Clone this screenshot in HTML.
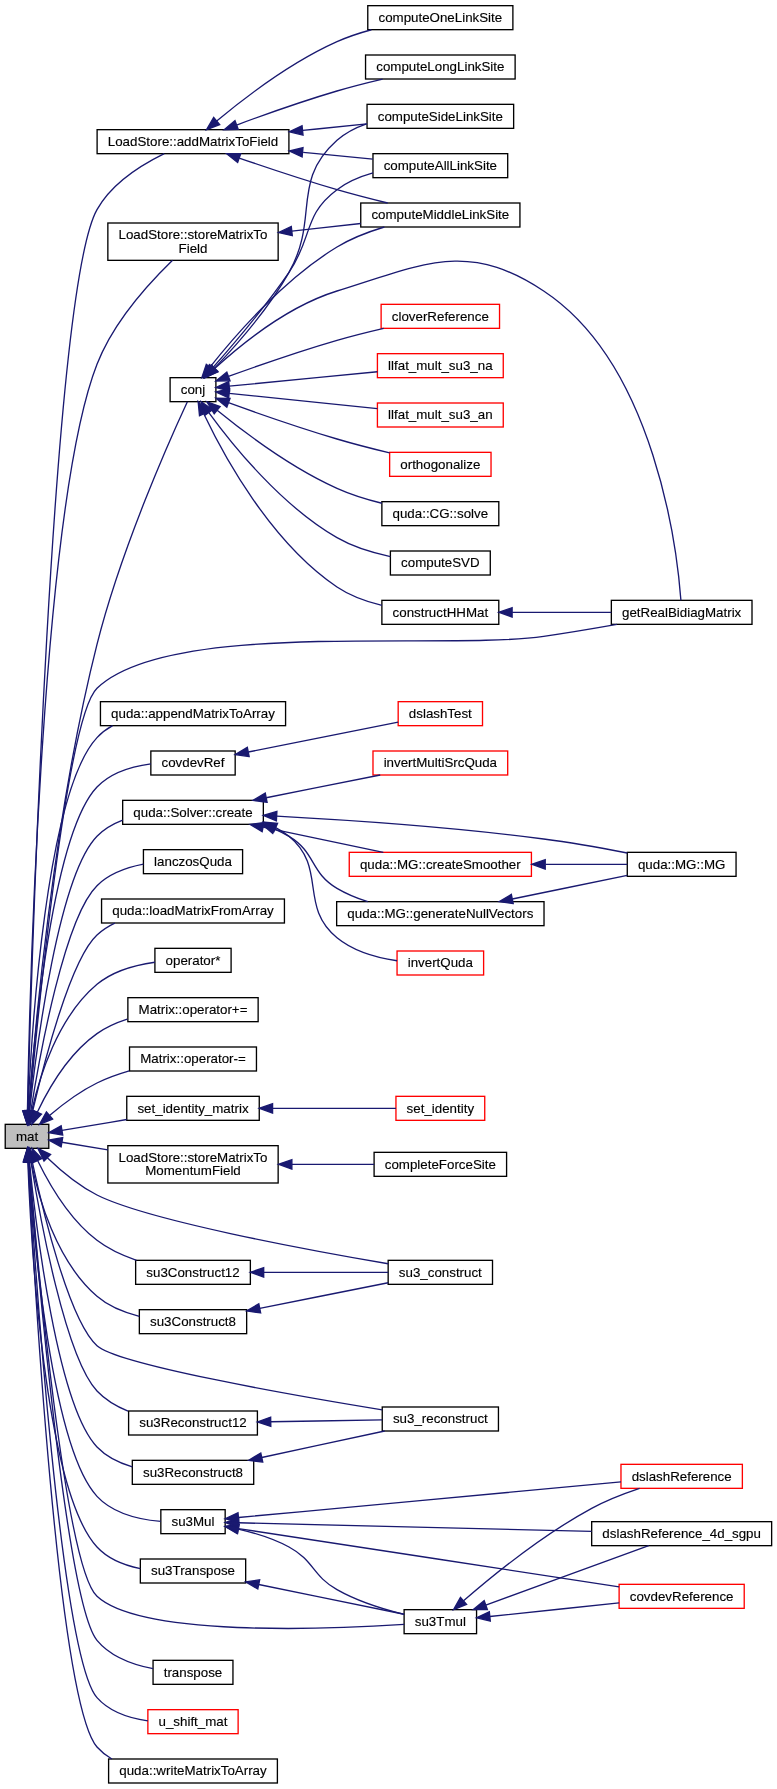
<!DOCTYPE html>
<html lang="en"><head><meta charset="utf-8"><title>mat caller graph</title>
<style>
html,body{margin:0;padding:0;background:#fff;}
body{width:777px;height:1789px;overflow:hidden;}
svg{display:block;will-change:transform;}
.n text{font-family:"Liberation Sans",sans-serif;font-size:10px;fill:#000;text-anchor:middle;stroke:#000;stroke-width:0.1;}
.n rect{stroke-width:1;}
.e path{fill:none;stroke:#191970;stroke-width:1;}
.e polygon{fill:#191970;stroke:#191970;stroke-width:1;}
</style></head><body>
<svg width="777" height="1789" viewBox="0 0 777 1789">
<rect x="0" y="0" width="777" height="1789" fill="#fff"/>
<g transform="translate(-0.33 -0.33) scale(1.33333)">
<g class="n">
<rect x="4.17" y="843.5" width="32.67" height="18" fill="#bfbfbf" stroke="#000"/>
<text x="20.5" y="855.8">mat</text>
<rect x="127.83" y="283.5" width="34.34" height="18" fill="#fff" stroke="#000"/>
<text x="145" y="295.8">conj</text>
<rect x="458.76" y="450.5" width="105.49" height="18" fill="#fff" stroke="#000"/>
<text x="511.5" y="462.8">getRealBidiagMatrix</text>
<rect x="75.58" y="526.5" width="138.85" height="18" fill="#fff" stroke="#000"/>
<text x="145" y="538.8">quda::appendMatrixToArray</text>
<rect x="113.38" y="563.5" width="63.25" height="18" fill="#fff" stroke="#000"/>
<text x="145" y="575.8">covdevRef</text>
<rect x="92.25" y="600.5" width="105.5" height="18" fill="#fff" stroke="#000"/>
<text x="145" y="612.8">quda::Solver::create</text>
<rect x="107.82" y="637.5" width="74.37" height="18" fill="#fff" stroke="#000"/>
<text x="145" y="649.8">lanczosQuda</text>
<rect x="76.42" y="674.5" width="137.15" height="18" fill="#fff" stroke="#000"/>
<text x="145" y="686.8">quda::loadMatrixFromArray</text>
<rect x="116.43" y="711.5" width="57.14" height="18" fill="#fff" stroke="#000"/>
<text x="145" y="723.8">operator*</text>
<rect x="96.15" y="748.5" width="97.7" height="18" fill="#fff" stroke="#000"/>
<text x="145" y="760.8">Matrix::operator+=</text>
<rect x="97.4" y="785.5" width="95.19" height="18" fill="#fff" stroke="#000"/>
<text x="145" y="797.8">Matrix::operator-=</text>
<rect x="95.32" y="822.5" width="99.37" height="18" fill="#fff" stroke="#000"/>
<text x="145" y="834.8">set_identity_matrix</text>
<rect x="81.14" y="859.5" width="127.72" height="28" fill="#fff" stroke="#000"/>
<text x="145" y="871.8">LoadStore::storeMatrixTo</text>
<text x="145" y="881.8">MomentumField</text>
<rect x="101.98" y="945.5" width="86.04" height="18" fill="#fff" stroke="#000"/>
<text x="145" y="957.8">su3Construct12</text>
<rect x="291.37" y="945.5" width="78.26" height="18" fill="#fff" stroke="#000"/>
<text x="330.5" y="957.8">su3_construct</text>
<rect x="104.76" y="982.5" width="80.48" height="18" fill="#fff" stroke="#000"/>
<text x="145" y="994.8">su3Construct8</text>
<rect x="96.7" y="1058.5" width="96.6" height="18" fill="#fff" stroke="#000"/>
<text x="145" y="1070.8">su3Reconstruct12</text>
<rect x="286.93" y="1055.5" width="87.15" height="18" fill="#fff" stroke="#000"/>
<text x="330.5" y="1067.8">su3_reconstruct</text>
<rect x="120.88" y="1132.5" width="48.24" height="18" fill="#fff" stroke="#000"/>
<text x="145" y="1144.8">su3Mul</text>
<rect x="303.33" y="1207.5" width="54.34" height="18" fill="#fff" stroke="#000"/>
<text x="330.5" y="1219.8">su3Tmul</text>
<rect x="105.5" y="1169.5" width="79" height="18" fill="#fff" stroke="#000"/>
<text x="145" y="1181.8">su3Transpose</text>
<rect x="73.08" y="97.5" width="143.85" height="18" fill="#fff" stroke="#000"/>
<text x="145" y="109.8">LoadStore::addMatrixToField</text>
<rect x="99.48" y="1095.5" width="91.04" height="18" fill="#fff" stroke="#000"/>
<text x="145" y="1107.8">su3Reconstruct8</text>
<rect x="115.04" y="1245.5" width="59.92" height="18" fill="#fff" stroke="#000"/>
<text x="145" y="1257.8">transpose</text>
<rect x="81.14" y="167.5" width="127.72" height="28" fill="#fff" stroke="#000"/>
<text x="145" y="179.8">LoadStore::storeMatrixTo</text>
<text x="145" y="189.8">Field</text>
<rect x="111.15" y="1282.5" width="67.69" height="18" fill="#fff" stroke="#f00"/>
<text x="145" y="1294.8">u_shift_mat</text>
<rect x="81.7" y="1319.5" width="126.59" height="18" fill="#fff" stroke="#000"/>
<text x="145" y="1331.8">quda::writeMatrixToArray</text>
<rect x="279.98" y="115.5" width="101.04" height="18" fill="#fff" stroke="#000"/>
<text x="330.5" y="127.8">computeAllLinkSite</text>
<rect x="286.66" y="450.5" width="87.68" height="18" fill="#fff" stroke="#000"/>
<text x="330.5" y="462.8">constructHHMat</text>
<rect x="270.81" y="152.5" width="119.39" height="18" fill="#fff" stroke="#000"/>
<text x="330.5" y="164.8">computeMiddleLinkSite</text>
<rect x="286.65" y="376.5" width="87.7" height="18" fill="#fff" stroke="#000"/>
<text x="330.5" y="388.8">quda::CG::solve</text>
<rect x="293.04" y="413.5" width="74.92" height="18" fill="#fff" stroke="#000"/>
<text x="330.5" y="425.8">computeSVD</text>
<rect x="275.53" y="78.5" width="109.95" height="18" fill="#fff" stroke="#000"/>
<text x="330.5" y="90.8">computeSideLinkSite</text>
<rect x="286.09" y="228.5" width="88.81" height="18" fill="#fff" stroke="#f00"/>
<text x="330.5" y="240.8">cloverReference</text>
<rect x="283.31" y="265.5" width="94.38" height="18" fill="#fff" stroke="#f00"/>
<text x="330.5" y="277.8">llfat_mult_su3_na</text>
<rect x="283.31" y="302.5" width="94.38" height="18" fill="#fff" stroke="#f00"/>
<text x="330.5" y="314.8">llfat_mult_su3_an</text>
<rect x="292.48" y="339.5" width="76.04" height="18" fill="#fff" stroke="#f00"/>
<text x="330.5" y="351.8">orthogonalize</text>
<rect x="298.88" y="526.5" width="63.25" height="18" fill="#fff" stroke="#f00"/>
<text x="330.5" y="538.8">dslashTest</text>
<rect x="298.04" y="713.5" width="64.92" height="18" fill="#fff" stroke="#f00"/>
<text x="330.5" y="725.8">invertQuda</text>
<rect x="279.99" y="563.5" width="101.03" height="18" fill="#fff" stroke="#f00"/>
<text x="330.5" y="575.8">invertMultiSrcQuda</text>
<rect x="262.19" y="639.5" width="136.62" height="18" fill="#fff" stroke="#f00"/>
<text x="330.5" y="651.8">quda::MG::createSmoother</text>
<rect x="470.71" y="639.5" width="81.58" height="18" fill="#fff" stroke="#000"/>
<text x="511.5" y="651.8">quda::MG::MG</text>
<rect x="252.74" y="676.5" width="155.52" height="18" fill="#fff" stroke="#000"/>
<text x="330.5" y="688.8">quda::MG::generateNullVectors</text>
<rect x="297.21" y="822.5" width="66.59" height="18" fill="#fff" stroke="#f00"/>
<text x="330.5" y="834.8">set_identity</text>
<rect x="280.82" y="864.5" width="99.37" height="18" fill="#fff" stroke="#000"/>
<text x="330.5" y="876.8">completeForceSite</text>
<rect x="464.59" y="1188.5" width="93.82" height="18" fill="#fff" stroke="#f00"/>
<text x="511.5" y="1200.8">covdevReference</text>
<rect x="444.01" y="1141.5" width="134.97" height="18" fill="#fff" stroke="#000"/>
<text x="511.5" y="1153.8">dslashReference_4d_sgpu</text>
<rect x="465.98" y="1098.5" width="91.04" height="18" fill="#fff" stroke="#f00"/>
<text x="511.5" y="1110.8">dslashReference</text>
<rect x="276.08" y="4.5" width="108.83" height="18" fill="#fff" stroke="#000"/>
<text x="330.5" y="16.8">computeOneLinkSite</text>
<rect x="274.41" y="41.5" width="112.18" height="18" fill="#fff" stroke="#000"/>
<text x="330.5" y="53.8">computeLongLinkSite</text>
</g>
<g class="e">
<path d="M21.78,833.52C25.77,778.6 39.8,615.03 73,483.5 91.25,411.2 128.26,328.46 140.77,301.5"/><polygon points="25.27,833.77 21.08,843.5 18.28,833.28 25.27,833.77"/>
<path d="M22.13,833.54C28.14,765.83 49.89,538.79 73,516.5 126.95,464.47 333.84,488.32 408,477.5 425.87,474.89 445.56,471.57 462.93,468.5"/><polygon points="25.62,833.84 21.26,843.5 18.65,833.23 25.62,833.84"/>
<path d="M21.22,833.51C23.85,774.32 34.87,594.69 73,553.5 76.37,549.86 80.36,546.91 84.7,544.53"/><polygon points="24.72,833.65 20.81,843.5 17.72,833.36 24.72,833.65"/>
<path d="M21.74,833.52C25.64,779.39 39.51,625.84 73,590.5 83.22,579.71 99.12,575.02 113.38,573.11"/><polygon points="25.23,833.76 21.05,843.5 18.24,833.28 25.23,833.76"/>
<path d="M22.42,833.55C27.72,784.86 44.13,657.08 73,627.5 78.33,622.04 85.06,618.15 92.25,615.4"/><polygon points="25.9,833.92 21.37,843.5 18.93,833.19 25.9,833.92"/>
<path d="M23.34,833.62C30.15,790.83 48.66,688.37 73,664.5 82.16,655.52 95.28,650.82 107.82,648.41"/><polygon points="26.8,834.15 21.81,843.5 19.88,833.08 26.8,834.15"/>
<path d="M24.69,833.75C33.14,797.51 53.14,719.79 73,701.5 76.93,697.88 81.47,694.96 86.34,692.61"/><polygon points="28.1,834.53 22.46,843.5 21.27,832.97 28.1,834.53"/>
<path d="M23.97,833.7C29.66,808.28 43.44,763.27 73,738.5 84.94,728.5 101.94,723.94 116.43,721.92"/><polygon points="27.4,834.41 21.96,843.5 20.54,833 27.4,834.41"/>
<path d="M28.22,834.39C36.66,816.74 51.88,790.43 73,775.5 79.75,770.73 87.65,767.23 95.68,764.65"/><polygon points="31.4,835.84 24.09,843.5 25.03,832.95 31.4,835.84"/>
<path d="M37.37,836.89C47.15,828.59 60.05,818.82 73,812.5 80.54,808.82 88.91,805.84 97.19,803.44"/><polygon points="39.69,839.52 29.87,843.5 35.06,834.26 39.69,839.52"/>
<path d="M46.7,848.08C60.8,845.7 78.68,842.69 95.32,839.88"/><polygon points="47.28,851.53 36.83,849.74 46.11,844.63 47.28,851.53"/>
<path d="M46.7,856.92C56.86,858.63 68.95,860.67 81.14,862.72"/><polygon points="46.12,860.37 36.83,855.26 47.28,853.47 46.12,860.37"/>
<path d="M28.44,870.57C37.04,888.19 52.36,914.59 73,930.5 81.58,937.11 92.21,941.96 102.64,945.5"/><polygon points="25.27,872.04 24.22,861.5 31.61,869.09 25.27,872.04"/>
<path d="M35.71,868.59C45.51,878.04 59,889.48 73,896.5 110.87,915.49 229.16,937.42 291.37,948.06"/><polygon points="33.23,871.06 28.66,861.5 38.19,866.12 33.23,871.06"/>
<path d="M23.54,871.34C28.82,897.85 42.22,945.88 73,972.5 81.78,980.09 93.4,984.69 104.76,987.47"/><polygon points="20.1,871.96 21.76,861.5 26.99,870.72 20.1,871.96"/>
<path d="M23.4,871.38C30.38,914.46 49.29,1018.25 73,1043.5 79.32,1050.23 87.6,1055.08 96.26,1058.56"/><polygon points="19.95,871.92 21.84,861.5 26.86,870.83 19.95,871.92"/>
<path d="M24.36,871.29C32.43,908.73 52.07,990.67 73,1009.5 88.76,1023.67 217.69,1046.3 286.93,1057.61"/><polygon points="20.94,872.01 22.3,861.5 27.79,870.56 20.94,872.01"/>
<path d="M21.64,871.48C25.32,926.7 38.76,1085.67 73,1122.5 84.99,1135.4 105,1139.92 120.88,1141.34"/><polygon points="18.14,871.7 21,861.5 25.13,871.26 18.14,871.7"/>
<path d="M22.02,871.47C27.73,940.43 48.79,1175.02 73,1197.5 105.67,1227.83 244.01,1222.41 303.33,1218.55"/><polygon points="18.53,871.75 21.21,861.5 25.51,871.18 18.53,871.75"/>
<path d="M21.11,871.49C23.45,931.86 33.74,1117.87 73,1160.5 81.28,1169.49 93.48,1174.27 105.5,1176.73"/><polygon points="17.61,871.62 20.76,861.5 24.61,871.37 17.61,871.62"/>
<path d="M20.98,833.5C23.79,728.13 39.07,218.03 73,157.5 84.03,137.83 106.52,123.8 123.45,115.5"/><polygon points="24.48,833.59 20.72,843.5 17.49,833.41 24.48,833.59"/>
<path d="M22.28,871.45C27.32,921.32 43.34,1054.49 73,1085.5 80.06,1092.88 89.64,1097.5 99.48,1100.36"/><polygon points="18.79,871.79 21.3,861.5 25.76,871.11 18.79,871.79"/>
<path d="M21.97,871.47C27.77,944.18 49.83,1202.44 73,1230.5 83.17,1242.81 100.13,1248.83 115.04,1251.77"/><polygon points="18.48,871.74 21.19,861.5 25.46,871.19 18.48,871.74"/>
<path d="M20.81,833.5C22.44,745.72 31.66,379.15 73,273.5 85.34,241.96 112.44,212.24 129.65,195.5"/><polygon points="24.31,833.56 20.63,843.5 17.31,833.44 24.31,833.56"/>
<path d="M21.62,871.48C26.4,949.51 46.02,1242.85 73,1273.5 82.39,1284.17 97.32,1288.95 111.15,1290.96"/><polygon points="18.13,871.69 21.02,861.5 25.11,871.27 18.13,871.69"/>
<path d="M21.42,871.49C25.56,953.77 43.62,1276.87 73,1310.5 76.18,1314.14 79.97,1317.1 84.14,1319.49"/><polygon points="17.92,871.66 20.92,861.5 24.91,871.31 17.92,871.66"/>
<path d="M159.87,276.03C175.1,258.78 199.04,230.61 217,204.5 235.06,178.25 227.4,161.48 253,142.5 260.89,136.65 270.4,132.67 279.98,129.96"/><polygon points="162.48,278.36 153.21,283.5 157.25,273.71 162.48,278.36"/>
<path d="M161.25,276.66C181.1,258.53 216.53,229.89 253,218.5 318.76,197.98 350.54,180.5 408,218.5 491.94,274.02 508.1,413.69 510.94,450.5"/><polygon points="163.65,279.21 153.96,283.5 158.86,274.11 163.65,279.21"/>
<path d="M153.05,310.58C168.04,342.09 203.27,406.9 253,440.5 262.86,447.15 274.97,451.48 286.66,454.3"/><polygon points="149.87,312.05 148.86,301.5 156.23,309.11 149.87,312.05"/>
<path d="M157.75,275.59C176.31,252.11 212.95,209.76 253,185.5 263.71,179.01 276.46,174.12 288.51,170.5"/><polygon points="160.51,277.74 151.62,283.5 154.98,273.45 160.51,277.74"/>
<path d="M163.1,307.87C183.69,324.63 218.89,351.1 253,366.5 263.44,371.21 275.35,374.88 286.65,377.67"/><polygon points="160.87,310.57 155.4,301.5 165.33,305.18 160.87,310.57"/>
<path d="M156.86,309.64C174.82,334.29 211.26,379.41 253,403.5 265.03,410.45 279.71,414.87 293.04,417.68"/><polygon points="154.01,311.68 151.06,301.5 159.71,307.61 154.01,311.68"/>
<path d="M161.14,276.33C177.17,259.54 201.52,231.93 217,204.5 240.01,163.73 218,136.6 253,105.5 259.32,99.88 267.07,95.93 275.18,93.16"/><polygon points="163.65,278.77 154.17,283.5 158.63,273.89 163.65,278.77"/>
<path d="M171.56,282.61C193.36,274.69 225.07,263.59 253,255.5 264.2,252.25 276.55,249.17 288.05,246.5"/><polygon points="172.77,285.9 162.17,286.05 170.36,279.33 172.77,285.9"/>
<path d="M172.13,289.86C201.26,287.03 248.11,282.49 283.31,279.08"/><polygon points="172.46,293.34 162.17,290.83 171.79,286.38 172.46,293.34"/>
<path d="M172.12,295.28C201.25,298.26 248.11,303.06 283.31,306.67"/><polygon points="171.76,298.76 162.17,294.26 172.48,291.8 171.76,298.76"/>
<path d="M171.57,302.3C193.39,310.17 225.12,321.24 253,329.5 265.66,333.25 279.79,336.87 292.48,339.93"/><polygon points="170.38,305.59 162.17,298.88 172.77,299.01 170.38,305.59"/>
<path d="M384.34,459.5C407.86,459.5 435.36,459.5 458.76,459.5"/><polygon points="384.34,463 374.34,459.5 384.34,456 384.34,463"/>
<path d="M186.43,564.25C220.44,557.46 267.87,547.99 298.88,541.8"/><polygon points="187.11,567.68 176.62,566.2 185.74,560.81 187.11,567.68"/>
<path d="M207.01,620.94C210.57,622.81 213.94,624.98 217,627.5 245.86,651.24 224.08,679.83 253,703.5 265.48,713.71 282.89,718.54 298.04,720.79"/><polygon points="205.58,624.13 197.86,616.87 208.42,617.73 205.58,624.13"/>
<path d="M199.88,598.55C227.13,593.12 259.65,586.64 285.42,581.5"/><polygon points="200.56,601.98 190.07,600.5 199.19,595.11 200.56,601.98"/>
<path d="M197.57,620.56C226.09,626.55 260.89,633.86 287.73,639.5"/><polygon points="196.85,623.98 187.79,618.5 198.29,617.13 196.85,623.98"/>
<path d="M207.73,612.38C261.23,615.28 340.03,620.63 408,629.5 428.65,632.19 451.65,636.31 470.71,640.02"/><polygon points="207.55,615.87 197.75,611.85 207.92,608.88 207.55,615.87"/>
<path d="M206.22,622.07C209.96,623.67 213.59,625.47 217,627.5 237.27,639.56 232.7,654.49 253,666.5 260.07,670.68 268.02,673.95 276.06,676.5"/><polygon points="204.84,625.3 196.72,618.5 207.31,618.75 204.84,625.3"/>
<path d="M409.39,648.5C430.41,648.5 452.48,648.5 470.71,648.5"/><polygon points="409.17,652 399.17,648.5 409.17,645 409.17,652"/>
<path d="M384.45,674.49C412.1,668.83 445.22,662.04 470.71,656.82"/><polygon points="385.15,677.92 374.65,676.5 383.75,671.06 385.15,677.92"/>
<path d="M204.68,831.5C235.33,831.5 271.52,831.5 297.21,831.5"/><polygon points="204.68,835 194.68,831.5 204.68,828 204.68,835"/>
<path d="M219.18,873.5C239.76,873.5 261.81,873.5 280.82,873.5"/><polygon points="219.15,877 209.15,873.5 219.15,870 219.15,877"/>
<path d="M198.02,954.5C227.77,954.5 264.24,954.5 291.37,954.5"/><polygon points="198.02,958 188.02,954.5 198.02,951 198.02,958"/>
<path d="M195.05,981.52C225.31,975.48 263.32,967.9 291.37,962.3"/><polygon points="195.73,984.95 185.24,983.47 194.36,978.08 195.73,984.95"/>
<path d="M203.3,1066.57C230.36,1066.12 261.98,1065.6 286.93,1065.19"/><polygon points="203.36,1070.07 193.3,1066.73 203.24,1063.07 203.36,1070.07"/>
<path d="M179,1146.7C244.81,1156.75 389.68,1178.89 464.59,1190.34"/><polygon points="178.47,1150.15 169.12,1145.18 179.53,1143.24 178.47,1150.15"/>
<path d="M178.9,1147.05C191.44,1149.95 205.4,1154.25 217,1160.5 235.85,1170.65 234.37,1181.95 253,1192.5 268.48,1201.27 287.83,1207.26 303.33,1211.06"/><polygon points="178.18,1150.48 169.12,1144.99 179.62,1143.63 178.18,1150.48"/>
<path d="M179.12,1142.34C239.36,1143.81 365.62,1146.91 444.01,1148.84"/><polygon points="179.03,1145.84 169.12,1142.09 179.2,1138.84 179.03,1145.84"/>
<path d="M179.08,1138.36C200.42,1136.39 228.43,1133.79 253,1131.5 327.38,1124.56 414.26,1116.5 465.98,1111.71"/><polygon points="179.4,1141.84 169.12,1139.28 178.75,1134.87 179.4,1141.84"/>
<path d="M367.62,1212.61C395.68,1209.67 434.38,1205.6 464.59,1202.43"/><polygon points="367.98,1216.09 357.67,1213.65 367.25,1209.13 367.98,1216.09"/>
<path d="M364.59,1204.07C400.19,1191.09 455.17,1171.03 486.8,1159.5"/><polygon points="365.78,1207.36 355.19,1207.5 363.39,1200.79 365.78,1207.36"/>
<path d="M347.9,1200.9C369.33,1182.33 407.4,1151.34 444,1131.5 455.11,1125.48 468.22,1120.41 479.92,1116.5"/><polygon points="350.21,1203.53 340.39,1207.5 345.59,1198.27 350.21,1203.53"/>
<path d="M194.3,1188.61C229.22,1195.76 274.77,1205.09 303.33,1210.93"/><polygon points="193.59,1192.04 184.5,1186.6 195,1185.18 193.59,1192.04"/>
<path d="M227.62,114.51C245.45,116.26 263.79,118.05 279.91,119.64"/><polygon points="226.82,117.94 217.21,113.49 227.5,110.98 226.82,117.94"/>
<path d="M179.65,118.79C200.81,126.1 228.43,135.32 253,142.5 265.18,146.06 278.7,149.52 291.01,152.5"/><polygon points="178.5,122.09 170.21,115.5 180.8,115.48 178.5,122.09"/>
<path d="M227.28,98.08C243.57,96.4 260.31,94.66 275.41,93.1"/><polygon points="227.52,101.58 217.21,99.13 226.79,94.62 227.52,101.58"/>
<path d="M162.77,91.04C183.26,73.99 218.55,46.93 253,31.5 261.09,27.87 270.01,24.93 278.81,22.55"/><polygon points="165.04,93.71 155.14,97.5 160.51,88.37 165.04,93.71"/>
<path d="M177.71,94C199.05,86.09 227.56,75.99 253,68.5 263.99,65.26 276.01,62.21 287.19,59.58"/><polygon points="178.93,97.28 168.34,97.5 176.48,90.72 178.93,97.28"/>
<path d="M196.57,1093.39C225.64,1087.12 261.48,1079.39 288.76,1073.5"/><polygon points="197.31,1096.81 186.8,1095.5 195.84,1089.97 197.31,1096.81"/>
<path d="M219.14,173.53C236.32,171.66 254.41,169.68 270.86,167.89"/><polygon points="219.47,177.01 209.15,174.62 218.71,170.05 219.47,177.01"/>
</g>
</g></svg></body></html>
